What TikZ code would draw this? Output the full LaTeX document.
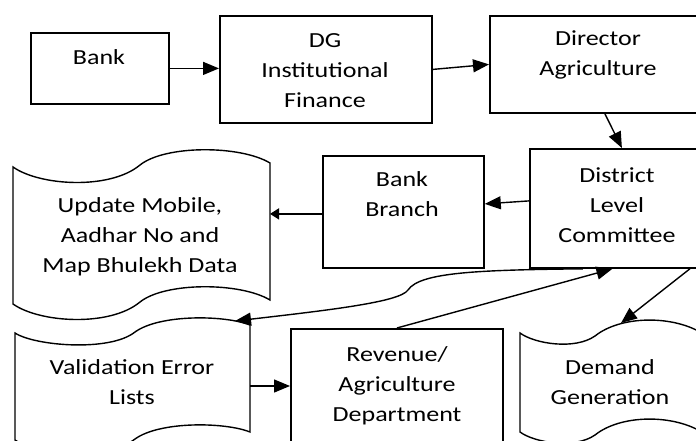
\documentclass[tikz,border=0pt]{standalone}
\usepackage{fontspec}
\setmainfont{Carlito}[FakeStretch=1.21]
\usetikzlibrary{arrows.meta}

\begin{document}
\begin{tikzpicture}[x=1pt,y=-1pt,
  box/.style={draw=black, line width=1.8pt, rectangle, inner sep=0pt, anchor=north west},
  txt/.style={align=center, font=\fontsize{21.5}{30}\selectfont, inner sep=0pt, text=black},
  doc/.style={draw=black, line width=1.4pt, fill=white},
  arr/.style={draw=black, line width=1.4pt, -{Triangle[length=16pt,width=13pt]}},
  smallarr/.style={draw=black, line width=1.4pt, -{Triangle[length=9pt,width=11pt]}},
]
\useasboundingbox (0,0) rectangle (696,441);
\clip (0,0) rectangle (696,441);

% process boxes
\node[box, minimum width=138pt, minimum height=71pt]  (bank) at (30,32)   {};
\node[box, minimum width=212pt, minimum height=107pt] (dg)   at (219,15)  {};
\node[box, minimum width=220pt, minimum height=97pt]  (dir)  at (489,15)  {};
\node[box, minimum width=161pt, minimum height=112pt] (bb)   at (322,155) {};
\node[box, minimum width=180pt, minimum height=119pt] (dist) at (529,148) {};
\node[box, minimum width=212pt, minimum height=150pt] (rev)  at (290,328) {};

% document shapes with wavy edges
\draw[doc] (13,167) .. controls (40,186) and (110,190) .. (140,165)
  .. controls (165,145) and (240,145) .. (270,163) -- (270,300)
  .. controls (240,282) and (165,282) .. (140,302)
  .. controls (110,327) and (40,323) .. (13,304) -- cycle;
\draw[doc] (15,333) .. controls (35,346) and (110,352) .. (135,332)
  .. controls (160,314) and (225,315) .. (250,325) -- (250,432)
  .. controls (225,422) and (160,421) .. (135,439)
  .. controls (110,459) and (35,453) .. (15,440) -- cycle;
\draw[doc] (520,333) .. controls (535,344) and (575,350) .. (595,336)
  .. controls (620,316) and (670,315) .. (700,332) -- (700,431)
  .. controls (670,414) and (620,415) .. (595,435)
  .. controls (575,449) and (535,443) .. (520,432) -- cycle;

% connector end points on the document shapes
\coordinate (upd-e)  at (270,213);
\coordinate (val-in) at (235,321);
\coordinate (val-e)  at (250,386);
\coordinate (dem-in) at (621,323);

% labels
\node[txt] (bankT) at (99,57)    {Bank};
\node[txt] (dgT)   at (325,71)   {DG\\Institutional\\Finance};
\node[txt] (dirT)  at (598,55)   {Director\\Agriculture};
\node[txt] (bbT)   at (402,194.5){Bank\\Branch};
\node[txt] (distT) at (617,205)  {District\\Level\\Committee};
\node[txt] (updT)  at (140,237)  {Update Mobile,\\Aadhar No and\\Map Bhulekh Data};
\node[txt] (valT)  at (132,382.5){Validation Error\\Lists};
\node[txt] (revT)  at (397,386)  {Revenue/\\Agriculture\\Department};
\node[txt] (demT)  at (610,382.5){Demand\\Generation};

% connectors
\draw[arr] (bank.east) -- (dg.west |- bank.east);
\draw[arr] (dg.east) -- (dir.west);
\draw[arr] ([xshift=5pt]dir.south) -- ([xshift=2pt]dist.north);
\draw[arr] ([yshift=7.5pt]dist.west) -- ([yshift=8pt]bb.east);
\draw[smallarr] ([yshift=-2pt]bb.west) -- ([yshift=-2pt]bb.west -| upd-e);
\draw[arr] ([xshift=-37pt]dist.south) .. controls (480,270) and (420,272) .. (408,290)
  .. controls (400,302) and (330,310) .. (val-in);
\draw[arr] (rev.north) -- ([xshift=-7.5pt]dist.south);
\draw[arr] ([xshift=70pt]dist.south) -- (dem-in);
\draw[arr] (val-e) -- (rev.west |- val-e);
\end{tikzpicture}
\end{document}
